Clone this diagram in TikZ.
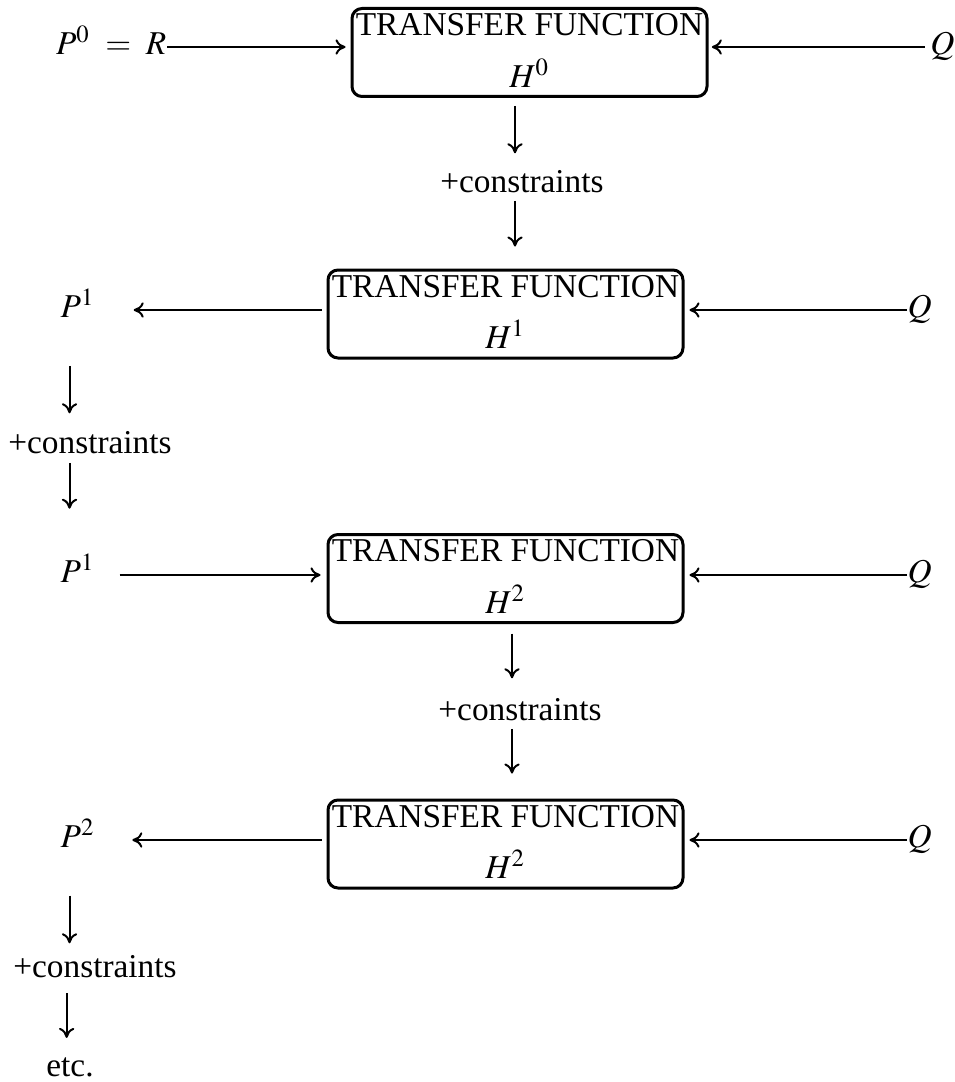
\documentclass[tikz,border=0pt]{standalone}
\usepackage{mathptmx}
\usepackage{fontspec}
\setmainfont{Liberation Serif}
\usetikzlibrary{arrows.meta}

\begin{document}
\begin{tikzpicture}[x=0.3pt, y=-0.3pt,
        tf/.style={draw, line width=0.9pt, rounded corners=3pt, align=center,
            minimum width=106.5pt, minimum height=26.4pt, inner xsep=1pt, inner ysep=0pt},
        lbl/.style={inner sep=0pt},
        flow/.style={-{To[length=3pt, width=4.6pt]}, line width=0.6pt}]
        \useasboundingbox (0,0) rectangle (955,1082);

        % first transfer function
        \node[tf] (H0) at (529.5,52.5) {TRANSFER FUNCTION\\[3.4pt]$H^0$\rule[-1.2pt]{0pt}{0pt}};
        \node[lbl, anchor=mid east] (P0) at (167,47) {$P^0\;=\;R$};
        \node[lbl, anchor=mid east] (Q0) at (955,47) {$Q$};
        \draw[flow, shorten >=1.5pt] (P0.mid east) -- (H0.west |- P0.mid east);
        \draw[flow, shorten <=1.5pt, shorten >=1pt] (Q0.mid west) -- (H0.east |- Q0.mid west);
        \node[lbl, anchor=base] (C1) at (522,193) {+constraints};
        \draw[flow, shorten <=2.4pt, shorten >=5.1pt] ([xshift=-2.1pt]H0.south -| C1) -- ([xshift=-2.1pt]C1.north);

        % second
        \node[tf] (H1) at (505.5,314) {TRANSFER FUNCTION\\[3.4pt]$H^1$\rule[-1.2pt]{0pt}{0pt}};
        \draw[flow, shorten <=2.1pt, shorten >=6.6pt] ([xshift=-2.1pt]C1.south) -- ([xshift=-2.1pt]H1.north -| C1);
        \node[lbl, anchor=mid west] (P1) at (60,310) {$P^1$};
        \node[lbl, anchor=mid west] (Q1) at (907,310) {$Q$};
        \draw[flow, shorten <=1.5pt, shorten >=11.4pt] (H1.west |- P1.mid east) -- (P1.mid east);
        \draw[flow, shorten >=1.5pt] (Q1.mid west) -- (H1.east |- Q1.mid west);
        \node[lbl, anchor=base] (C2) at (90,453) {+constraints};
        \draw[flow, shorten <=14.3pt, shorten >=5.1pt] ([xshift=-2.5pt]P1.south) -- ([xshift=-2.5pt]P1.south |- C2.north);

        % third
        \node[tf] (H2) at (505.5,578.5) {TRANSFER FUNCTION\\[3.4pt]$H^2$\rule[-1.2pt]{0pt}{0pt}};
        \node[lbl, anchor=mid west] (P2) at (60,575) {$P^1$};
        \node[lbl, anchor=mid west] (Q2) at (907,575) {$Q$};
        \draw[flow, shorten <=2.7pt, shorten >=13.4pt] ([xshift=-2.5pt]P2.north |- C2.south) -- ([xshift=-2.5pt]P2.north);
        \draw[flow, shorten <=7.2pt, shorten >=1.8pt] (P2.mid east) -- (H2.west |- P2.mid east);
        \draw[flow, shorten >=1.5pt] (Q2.mid west) -- (H2.east |- Q2.mid west);
        \node[lbl, anchor=base] (C3) at (520,720) {+constraints};
        \draw[flow, shorten <=2.9pt, shorten >=5.7pt] ([xshift=-2.4pt]H2.south -| C3) -- ([xshift=-2.4pt]C3.north);

        % fourth
        \node[tf] (H3) at (505.5,844) {TRANSFER FUNCTION\\[3.4pt]$H^2$\rule[-1.2pt]{0pt}{0pt}};
        \draw[flow, shorten <=2.4pt, shorten >=7.5pt] ([xshift=-2.4pt]C3.south) -- ([xshift=-2.4pt]H3.north -| C3);
        \node[lbl, anchor=mid west] (P3) at (60,840) {$P^2$};
        \node[lbl, anchor=mid west] (Q3) at (907,840) {$Q$};
        \draw[flow, shorten <=1.5pt, shorten >=11pt] (H3.west |- P3.mid east) -- (P3.mid east);
        \draw[flow, shorten >=1.5pt] (Q3.mid west) -- (H3.east |- Q3.mid west);
        \node[lbl, anchor=base] (C4) at (95,977) {+constraints};
        \draw[flow, shorten <=14.2pt, shorten >=3.3pt] ([xshift=-2.5pt]P3.south) -- ([xshift=-2.5pt]P3.south |- C4.north);
        \node[lbl, anchor=base] (E) at (70,1076) {etc.};
        \draw[flow, shorten <=4.5pt, shorten >=5.6pt] ([xshift=-1pt]E.north |- C4.south) -- ([xshift=-1pt]E.north);

    \end{tikzpicture}
\end{document}
